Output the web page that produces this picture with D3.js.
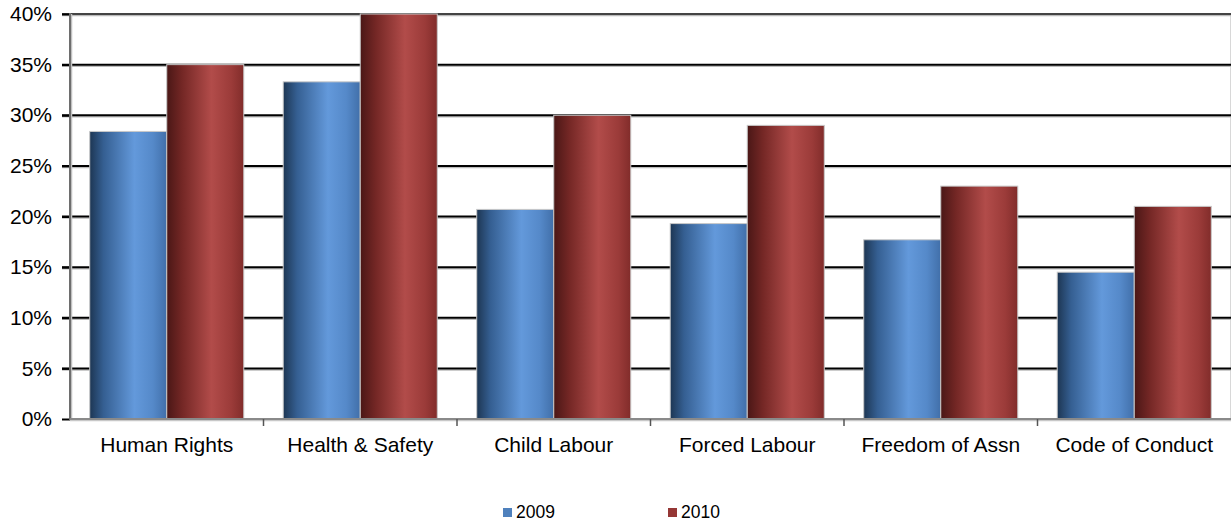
<!DOCTYPE html>
<html>
<head>
<meta charset="utf-8">
<script src="https://cdn.jsdelivr.net/npm/d3@7"></script>
<style>
  html, body { margin: 0; padding: 0; background: #fff; }
  svg { display: block; font-family: "Liberation Sans", Arial, sans-serif; }
</style>
</head>
<body>
<svg id="chart" width="1231" height="525"></svg>
<script>
// Share of issues covered, by category and year
const categories = ["Human Rights", "Health & Safety", "Child Labour", "Forced Labour", "Freedom of Assn", "Code of Conduct"];
const series = ["2009", "2010"];
const values2009 = [28.4, 33.3, 20.7, 19.3, 17.7, 14.5];
const values2010 = [35, 40, 30, 29, 23, 21];
const yTicks = [0, 5, 10, 15, 20, 25, 30, 35, 40];

const W = 1231, H = 525;
const margin = { top: 14, right: 0, bottom: 106, left: 70 };

const svg = d3.select("#chart");
const defs = svg.append("defs");

// Cylinder-like shading across each bar
function gradient(id, stops) {
  const g = defs.append("linearGradient").attr("id", id)
    .attr("x1", "0%").attr("x2", "100%").attr("y1", "0%").attr("y2", "0%");
  stops.forEach(([o, c]) => g.append("stop").attr("offset", o).attr("stop-color", c));
}
gradient("gBlue", [["0%", "#1d3653"], ["18%", "#355f92"], ["58%", "#6399db"], ["82%", "#5589c9"], ["100%", "#416fa9"]]);
gradient("gRed", [["0%", "#4a1716"], ["20%", "#742725"], ["58%", "#b24c4a"], ["84%", "#9b3b39"], ["100%", "#812c2a"]]);
const fills = ["url(#gBlue)", "url(#gRed)"];
const legendColors = ["#4f81bd", "#953735"];

const x0 = d3.scaleBand().domain(categories).range([margin.left, W - margin.right]).paddingInner(0).paddingOuter(0);
const x1 = d3.scaleBand().domain(series).range([0, x0.bandwidth()]).paddingOuter(0.256).paddingInner(0);
const y = d3.scaleLinear().domain([0, 40]).range([H - margin.bottom, margin.top]);

// Faint plot-area edge on the right
svg.append("line").attr("x1", W - 0.5).attr("x2", W - 0.5).attr("y1", margin.top).attr("y2", y(0))
  .attr("stroke", "#d8d8d8").attr("stroke-width", 1);

// Gridlines with a soft shadow underneath
const grid = svg.append("g");
yTicks.filter(t => t > 0).forEach(t => {
  const top = t === d3.max(yTicks);
  grid.append("line").attr("x1", margin.left - 8).attr("x2", W).attr("y1", y(t) + 1.5).attr("y2", y(t) + 1.5)
    .attr("stroke", "#bbb").attr("stroke-width", 1.5);
  grid.append("line").attr("x1", margin.left - 8).attr("x2", W).attr("y1", y(t)).attr("y2", y(t))
    .attr("stroke", top ? "#444" : "#000").attr("stroke-width", 2);
});

// Bars
const rows = categories.map((c, i) => ({ cat: c, vals: [values2009[i], values2010[i]] }));
const groups = svg.append("g").selectAll("g").data(rows).join("g")
  .attr("transform", d => `translate(${x0(d.cat)},0)`);
groups.selectAll("rect").data(d => d.vals.map((v, i) => ({ v, s: series[i], i }))).join("rect")
  .attr("x", d => x1(d.s))
  .attr("y", d => y(d.v))
  .attr("width", x1.bandwidth())
  .attr("height", d => y(0) - y(d.v))
  .attr("fill", d => fills[d.i])
  .attr("stroke", "#c8c8c8")
  .attr("stroke-width", 1);

// Y axis
const yAxis = svg.append("g").attr("transform", `translate(${margin.left},0)`)
  .call(d3.axisLeft(y).tickValues(yTicks).tickFormat(d => d + "%").tickSize(8).tickPadding(10));
yAxis.select(".domain").remove();
yAxis.selectAll(".tick line").attr("stroke", "#000").attr("stroke-width", 2);
yAxis.selectAll("text").attr("font-size", 21).attr("fill", "#000");
svg.append("line").attr("x1", margin.left + 1.5).attr("x2", margin.left + 1.5).attr("y1", margin.top).attr("y2", y(0))
  .attr("stroke", "#c0c0c0").attr("stroke-width", 1.5);
svg.append("line").attr("x1", margin.left).attr("x2", margin.left).attr("y1", margin.top - 1).attr("y2", y(0) + 1)
  .attr("stroke", "#6e6e6e").attr("stroke-width", 2);

// X axis
const xAxis = svg.append("g").attr("transform", `translate(0,${y(0)})`)
  .call(d3.axisBottom(x0).tickSize(0).tickPadding(18));
xAxis.select(".domain").remove();
xAxis.selectAll("text").attr("font-size", 21).attr("fill", "#000");
svg.append("line").attr("x1", margin.left).attr("x2", W).attr("y1", y(0) + 1.5).attr("y2", y(0) + 1.5)
  .attr("stroke", "#c8c8c8").attr("stroke-width", 1.5);
svg.append("line").attr("x1", margin.left).attr("x2", W).attr("y1", y(0)).attr("y2", y(0))
  .attr("stroke", "#8a8a8a").attr("stroke-width", 2);
// Category separators
svg.append("g").selectAll("line").data(categories.slice(1)).join("line")
  .attr("x1", d => x0(d)).attr("x2", d => x0(d))
  .attr("y1", y(0)).attr("y2", y(0) + 7)
  .attr("stroke", "#555").attr("stroke-width", 1.5);

// Legend
const legendX = [503, 668];
const legend = svg.append("g").selectAll("g").data(series).join("g")
  .attr("transform", (d, i) => `translate(${legendX[i]},508)`);
legend.append("rect").attr("width", 9).attr("height", 9).attr("fill", (d, i) => legendColors[i]);
legend.append("text").attr("x", 13).attr("y", 10).attr("font-size", 17.5).attr("fill", "#000").text(d => d);
</script>
</body>
</html>
